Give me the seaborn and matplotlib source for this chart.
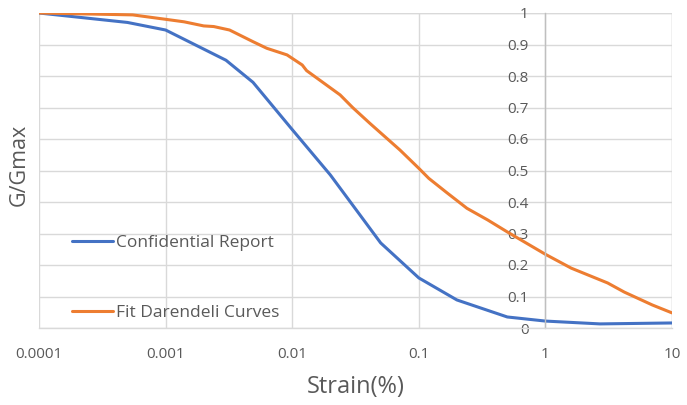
import numpy as np
import pandas as pd
import matplotlib
matplotlib.use("Agg")
import matplotlib.pyplot as plt
import seaborn as sns

# Data
report_strain = [0.0001, 0.0005, 0.001, 0.003, 0.0049, 0.01, 0.02, 0.05, 0.1, 0.2, 0.5, 1.0, 2.7, 10.0]
report_ratio = [1.0, 0.97, 0.946, 0.85, 0.78, 0.63, 0.486, 0.27, 0.159, 0.089, 0.035, 0.022, 0.013, 0.016]

fit_strain = [0.0001, 0.00055, 0.001, 0.0014, 0.002, 0.0024, 0.0032, 0.0049, 0.0063, 0.0091, 0.012, 0.013,
              0.0239, 0.03, 0.041, 0.071, 0.1, 0.12, 0.166, 0.24, 0.35, 0.5, 1.0, 1.6, 3.1, 4.2, 7.0, 10.0]
fit_ratio = [1.0, 0.994, 0.98, 0.972, 0.959, 0.957, 0.946, 0.909, 0.888, 0.867, 0.835, 0.817,
             0.74, 0.70, 0.65, 0.565, 0.507, 0.475, 0.43, 0.38, 0.343, 0.305, 0.234, 0.19, 0.143, 0.114, 0.073, 0.048]

series_names = ["Confidential Report", "Fit Darendeli Curves"]
x_ticks = [0.0001, 0.001, 0.01, 0.1, 1, 10]
x_tick_labels = ["0.0001", "0.001", "0.01", "0.1", "1", "10"]
y_ticks = [0, 0.1, 0.2, 0.3, 0.4, 0.5, 0.6, 0.7, 0.8, 0.9, 1.0]
y_tick_labels = ["0", "0.1", "0.2", "0.3", "0.4", "0.5", "0.6", "0.7", "0.8", "0.9", "1"]

df = pd.concat([
    pd.DataFrame({"strain": report_strain, "ratio": report_ratio, "series": series_names[0]}),
    pd.DataFrame({"strain": fit_strain, "ratio": fit_ratio, "series": series_names[1]}),
])

sns.set_style("white")
plt.rcParams["font.family"] = ["Open Sans", "DejaVu Sans"]

W, H = 687, 405
fig = plt.figure(figsize=(W / 100, H / 100), dpi=100)
ax = fig.add_axes([39 / W, (H - 328) / H, (672 - 39) / W, (328 - 13) / H])

palette = {series_names[0]: "#4472c4", series_names[1]: "#ed7d31"}
sns.lineplot(data=df, x="strain", y="ratio", hue="series", palette=palette,
             linewidth=2.2, ax=ax, sort=False, estimator=None)

ax.set_xscale("log")
ax.set_xlim(0.0001, 10)
ax.set_ylim(0, 1)
ax.set_xticks(x_ticks)
ax.set_xticklabels(x_tick_labels)
ax.set_yticks(y_ticks)
ax.set_yticklabels(y_tick_labels)
ax.minorticks_off()

grid_c = "#d9d9d9"
ax.grid(True, color=grid_c, linewidth=1.0)
ax.set_axisbelow(True)
for s in ["top", "right"]:
    ax.spines[s].set_visible(False)
ax.spines["bottom"].set_color(grid_c)
ax.spines["bottom"].set_linewidth(1.0)
ax.spines["left"].set_position(("data", 1))
ax.spines["left"].set_color("#bfbfbf")
ax.spines["left"].set_linewidth(1.0)
ax.axvline(10, color=grid_c, linewidth=1.0, zorder=0)
ax.axhline(1, color=grid_c, linewidth=1.0, zorder=0)

text_c = "#595959"
ax.tick_params(axis="both", length=0, colors=text_c, labelsize=11)
ax.tick_params(axis="x", pad=14)
ax.tick_params(axis="y", pad=12)

ax.set_xlabel("Strain(%)", fontsize=17, color=text_c, labelpad=9)
ax.set_ylabel("")
fig.text(19 / W, 1 - 165 / H, "G/Gmax", rotation=90, fontsize=15.5, color=text_c,
         ha="center", va="center")

handles, labels = ax.get_legend_handles_labels()
leg = ax.legend(handles, labels, loc="upper left",
                bbox_to_anchor=(72 / W, 1 - 235 / H), bbox_transform=fig.transFigure,
                frameon=False, fontsize=12.5, labelspacing=3.12, handlelength=2.35,
                handletextpad=0.2, borderpad=0, borderaxespad=0)
for t in leg.get_texts():
    t.set_color(text_c)

fig.savefig("out.png", dpi=100)
